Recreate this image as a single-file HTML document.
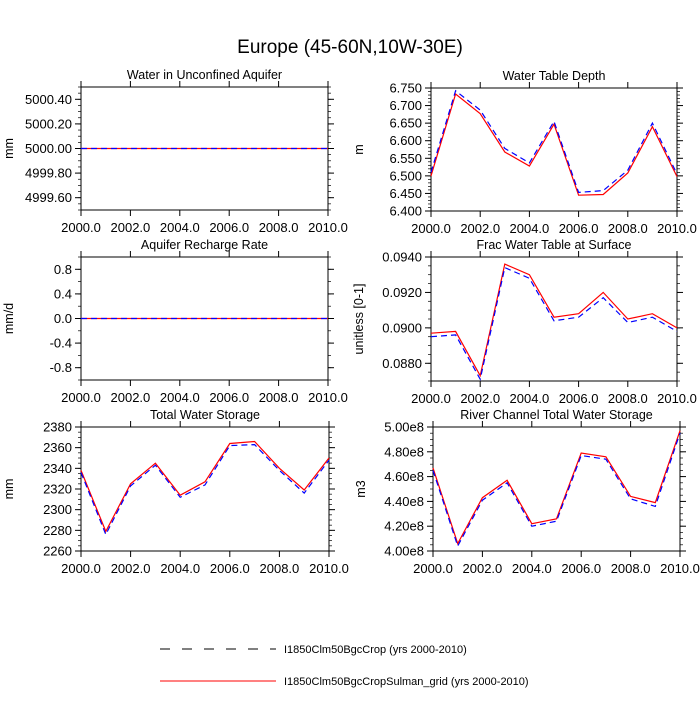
<!DOCTYPE html>
<html><head><meta charset="utf-8"><style>
body{margin:0;background:#fff;font-family:"Liberation Sans",sans-serif}
svg text{font-family:"Liberation Sans",sans-serif;fill:#000}
</style></head><body>
<svg id="c" width="700" height="700" xmlns="http://www.w3.org/2000/svg">
<text x="350" y="53" font-size="19" text-anchor="middle">Europe (45-60N,10W-30E)</text>
<g>
<line x1="160" y1="649" x2="276" y2="649" stroke="#000" stroke-dasharray="10,12" stroke-width="1"/>
<text x="284" y="653" font-size="11">I1850Clm50BgcCrop (yrs 2000-2010)</text>
<line x1="160" y1="681" x2="276" y2="681" stroke="red" stroke-width="1"/>
<text x="284" y="685" font-size="11">I1850Clm50BgcCropSulman_grid (yrs 2000-2010)</text>
</g>
</svg>
<script>
const years=[2000,2001,2002,2003,2004,2005,2006,2007,2008,2009,2010];
const xTicks=[2000,2002,2004,2006,2008,2010];
const xTickLabels=["2000.0","2002.0","2004.0","2006.0","2008.0","2010.0"];
const aqRed=[5000,5000,5000,5000,5000,5000,5000,5000,5000,5000,5000];
const aqBlue=[5000,5000,5000,5000,5000,5000,5000,5000,5000,5000,5000];
const wtdRed=[6.500,6.733,6.677,6.568,6.528,6.647,6.445,6.447,6.508,6.640,6.498];
const wtdBlue=[6.510,6.742,6.687,6.578,6.537,6.655,6.453,6.458,6.516,6.650,6.505];
const rchRed=[0,0,0,0,0,0,0,0,0,0,0];
const rchBlue=[0,0,0,0,0,0,0,0,0,0,0];
const fracRed=[0.0897,0.0898,0.0873,0.0936,0.0930,0.0906,0.0908,0.0920,0.0905,0.0908,0.0900];
const fracBlue=[0.0895,0.0896,0.0871,0.0934,0.0928,0.0904,0.0906,0.0917,0.0903,0.0906,0.0898];
const twsRed=[2338,2279,2325,2345,2314,2327,2364,2366,2340,2319,2350];
const twsBlue=[2336,2276,2323,2343,2312,2324,2362,2363,2338,2316,2348];
const rivRed=[4.67,4.06,4.43,4.57,4.22,4.26,4.79,4.76,4.44,4.39,4.97];
const rivBlue=[4.65,4.04,4.41,4.55,4.20,4.24,4.77,4.74,4.42,4.36,4.95];
const aqTicks=[4999.6,4999.8,5000,5000.2,5000.4];
const wtdTicks=[6.40,6.45,6.50,6.55,6.60,6.65,6.70,6.75];
const rchTicks=[-0.8,-0.4,0,0.4,0.8];
const fracTicks=[0.088,0.090,0.092,0.094];
const twsTicks=[2260,2280,2300,2320,2340,2360,2380];
const rivTicks=[4.0,4.2,4.4,4.6,4.8,5.0];

const NS="http://www.w3.org/2000/svg";
const svg=document.getElementById('c');
function mk(t,a,p){const e=document.createElementNS(NS,t);for(const k in a)e.setAttribute(k,a[k]);(p||svg).appendChild(e);return e;}
const panels=[
 {name:'unconfined-aquifer',title:'Water in Unconfined Aquifer',unit:'mm',x0:81,x1:328,y0:87,y1:210,ymin:4999.5,ymax:5000.5,ticks:aqTicks,fmt:v=>v.toFixed(2),minor:0.05,red:aqRed,blue:aqBlue},
 {name:'water-table-depth',title:'Water Table Depth',unit:'m',x0:431,x1:677,y0:88,y1:211,ymin:6.4,ymax:6.75,ticks:wtdTicks,fmt:v=>v.toFixed(3),minor:0.01,red:wtdRed,blue:wtdBlue},
 {name:'aquifer-recharge',title:'Aquifer Recharge Rate',unit:'mm/d',x0:81,x1:328,y0:257,y1:380,ymin:-1,ymax:1,ticks:rchTicks,fmt:v=>v.toFixed(1),minor:0.2,red:rchRed,blue:rchBlue},
 {name:'frac-water-table',title:'Frac Water Table at Surface',unit:'unitless [0-1]',x0:431,x1:677,y0:257,y1:381,ymin:0.0870,ymax:0.0940,ticks:fracTicks,fmt:v=>v.toFixed(4),minor:0.0005,red:fracRed,blue:fracBlue},
 {name:'total-water-storage',title:'Total Water Storage',unit:'mm',x0:81,x1:329,y0:427,y1:551,ymin:2260,ymax:2380,ticks:twsTicks,fmt:v=>v.toFixed(0),minor:5,red:twsRed,blue:twsBlue},
 {name:'river-channel-storage',title:'River Channel Total Water Storage',unit:'m3',x0:433,x1:680,y0:427,y1:551,ymin:4.0,ymax:5.0,ticks:rivTicks,fmt:v=>v.toFixed(2)+'e8',minor:0.05,red:rivRed,blue:rivBlue}
];
panels.forEach(p=>{
 const g=mk('g',{});
 
 
 const X=v=>p.x0+(v-2000)/10*(p.x1-p.x0);
 const Y=v=>p.y1-(v-p.ymin)/(p.ymax-p.ymin)*(p.y1-p.y0);
 const t=mk('text',{x:(p.x0+p.x1)/2,y:p.y0-8,'font-size':12.5,'text-anchor':'middle'},g);t.textContent=p.title;
 
 
 const yl=mk('text',{x:0,y:0,'font-size':12.5,'text-anchor':'middle',transform:`translate(${p.x0-68},${(p.y0+p.y1)/2}) rotate(-90)`},g);yl.textContent=p.unit;
 
 
 const n=Math.round((p.ymax-p.ymin)/p.minor);
 for(let i=0;i<=n;i++){const y=Y(p.ymin+i*p.minor);
  mk('line',{x1:p.x0,x2:p.x0-3,y1:y,y2:y,stroke:'#000','stroke-width':0.7},g);
  mk('line',{x1:p.x1,x2:p.x1+3,y1:y,y2:y,stroke:'#000','stroke-width':0.7},g);}
 p.ticks.forEach(v=>{const y=Y(v);
  mk('line',{x1:p.x0,x2:p.x0-6,y1:y,y2:y,stroke:'#000'},g);
  mk('line',{x1:p.x1,x2:p.x1+6,y1:y,y2:y,stroke:'#000'},g);
  const l=mk('text',{x:p.x0-9,y:y+4.5,'font-size':13,'text-anchor':'end'},g);l.textContent=p.fmt(v);
  
  });
 xTicks.forEach((v,i)=>{const x=X(v);
  mk('line',{x1:x,x2:x,y1:p.y1,y2:p.y1+6,stroke:'#000'},g);
  mk('line',{x1:x,x2:x,y1:p.y0,y2:p.y0-6,stroke:'#000'},g);
  const l=mk('text',{x:x,y:p.y1+22,'font-size':13,'text-anchor':'middle'},g);l.textContent=xTickLabels[i];
  
  });
 mk('rect',{x:p.x0,y:p.y0,width:p.x1-p.x0,height:p.y1-p.y0,fill:'none',stroke:'#000','stroke-width':1},g);
 const pts=a=>a.map((v,i)=>X(years[i]).toFixed(1)+','+Y(v).toFixed(1)).join(' ');
 const r=mk('polyline',{points:pts(p.red),fill:'none',stroke:'red','stroke-width':1.2},g);
 
 
 const b=mk('polyline',{points:pts(p.blue),fill:'none',stroke:'blue','stroke-width':1.2,'stroke-dasharray':'6,4'},g);
 
 
});
</script>
</body></html>
